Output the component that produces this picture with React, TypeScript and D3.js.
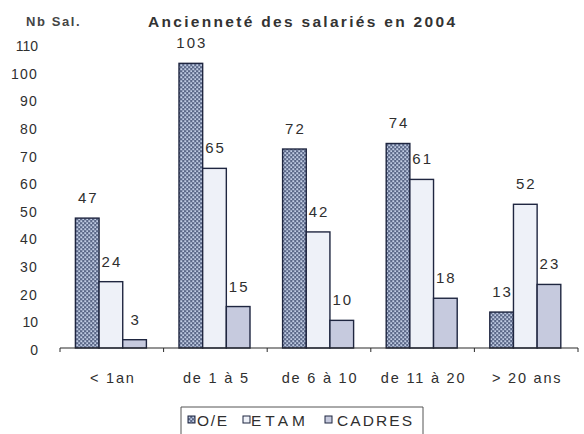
import * as d3 from 'd3';
import React from 'react';

const categories = ['< 1an', 'de 1 à 5', 'de 6 à 10', 'de 11 à 20', '> 20 ans'];
const seriesNames = ['O/E', 'ETAM', 'CADRES'];
const oeValues = [47, 103, 72, 74, 13];
const etamValues = [24, 65, 42, 61, 52];
const cadresValues = [3, 15, 10, 18, 23];
const yTicks = [0, 10, 20, 30, 40, 50, 60, 70, 80, 90, 100, 110];

const W = 584;
const H = 434;
const FONT = '"Liberation Sans", Arial, sans-serif';
const TEXT = '#2f2f2f';
const EDGE = '#1f2640';
const fills = ['url(#oePattern)', '#eef1f8', '#c6cade'];

export default function App() {
  const values = [oeValues, etamValues, cadresValues];
  const x = d3.scaleBand().domain(categories).range([60, 578]);
  const sub = d3.scaleBand().domain(seriesNames).range([15.4, 86.4]);
  const y = d3.scaleLinear().domain([0, 110]).range([348, 44]);

  const bars = [];
  categories.forEach((c, i) => {
    seriesNames.forEach((s, j) => {
      bars.push({ c, s, j, v: values[j][i] });
    });
  });

  const tickPos = [...categories.map((c) => x(c)), x(categories[categories.length - 1]) + x.bandwidth()];

  // legend items, laid out left to right
  const legendItems = [
    { name: 'O/E', sq: 188, tx: 197, len: 30 },
    { name: 'ETAM', sq: 243, tx: 251, len: 54 },
    { name: 'CADRES', sq: 325, tx: 337, len: 75 },
  ];

  return (
    <svg width={W} height={H} style={{ position: 'absolute', left: 0, top: 0, background: '#fff' }}>
      <defs>
        <pattern id="oePattern" width="4" height="4" patternUnits="userSpaceOnUse">
          <rect width="4" height="4" fill="#5c6989" />
          <rect x="0.3" y="0.3" width="1.9" height="1.9" fill="#c2cde4" />
          <rect x="2.3" y="2.3" width="1.9" height="1.9" fill="#c2cde4" />
        </pattern>
      </defs>

      <text x={26} y={26} fontFamily={FONT} fontSize={13} fontWeight="bold" fill="#454545" letterSpacing={1.6}>
        Nb Sal.
      </text>
      <text
        x={148}
        y={27}
        fontFamily={FONT}
        fontSize={15.5}
        fill="#333"
        textLength={307}
        lengthAdjust="spacing"
        style={{ fontWeight: 600 }}
      >
        Ancienneté des salariés en 2004
      </text>

      {yTicks.map((t) => (
        <text
          key={t}
          x={38}
          y={y(t) + 7}
          textAnchor="end"
          fontFamily={FONT}
          fontSize={14}
          fill={TEXT}
          letterSpacing={t >= 20 && t <= 100 ? 1.2 : 0}
        >
          {t}
        </text>
      ))}

      {bars.map((b, k) => (
        <rect
          key={k}
          x={x(b.c) + sub(b.s)}
          y={y(b.v)}
          width={sub.bandwidth()}
          height={y(0) - y(b.v)}
          fill={fills[b.j]}
          stroke={EDGE}
          strokeWidth={1.4}
        />
      ))}

      {bars.map((b, k) => (
        <text
          key={'l' + k}
          x={x(b.c) + sub(b.s) + sub.bandwidth() / 2 + 1}
          y={y(b.v) - 15}
          textAnchor="middle"
          fontFamily={FONT}
          fontSize={15}
          fill={TEXT}
          letterSpacing={2}
        >
          {b.v}
        </text>
      ))}

      <line x1={60} x2={578} y1={y(0)} y2={y(0)} stroke="#2a2a2a" strokeWidth={1.2} />
      {tickPos.map((p, i) => (
        <line key={i} x1={p} x2={p} y1={y(0)} y2={y(0) + 4} stroke="#2a2a2a" strokeWidth={1} />
      ))}

      {categories.map((c) => (
        <text
          key={c}
          x={x(c) + x.bandwidth() / 2 + 1}
          y={383}
          textAnchor="middle"
          fontFamily={FONT}
          fontSize={14.5}
          fill={TEXT}
          letterSpacing={1.8}
        >
          {c}
        </text>
      ))}

      <polyline points="181,440 181,407 423,407 423,440" fill="none" stroke="#555" strokeWidth={1} />
      {legendItems.map((it, j) => (
        <g key={it.name}>
          <rect x={it.sq} y={416} width={7} height={7} fill={fills[j]} stroke={EDGE} strokeWidth={1} />
          <text
            x={it.tx}
            y={425.5}
            fontFamily={FONT}
            fontSize={15.5}
            fill={TEXT}
            textLength={it.len}
            lengthAdjust="spacing"
          >
            {it.name}
          </text>
        </g>
      ))}
    </svg>
  );
}
